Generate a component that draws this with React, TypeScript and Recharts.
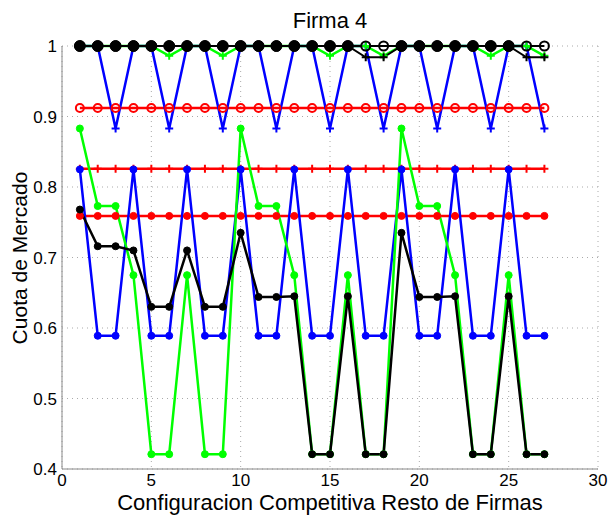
import { LineChart, Line, XAxis, YAxis, CartesianGrid } from "recharts";

// configuraciones competitivas del resto de firmas
const configuraciones = [1, 2, 3, 4, 5, 6, 7, 8, 9, 10, 11, 12, 13, 14, 15, 16, 17, 18, 19, 20, 21, 22, 23, 24, 25, 26, 27];

const rojoCirculos = [0.912, 0.912, 0.912, 0.912, 0.912, 0.912, 0.912, 0.912, 0.912, 0.912, 0.912, 0.912, 0.912, 0.912, 0.912, 0.912, 0.912, 0.912, 0.912, 0.912, 0.912, 0.912, 0.912, 0.912, 0.912, 0.912, 0.912];
const rojoCruces = [0.826, 0.826, 0.826, 0.826, 0.826, 0.826, 0.826, 0.826, 0.826, 0.826, 0.826, 0.826, 0.826, 0.826, 0.826, 0.826, 0.826, 0.826, 0.826, 0.826, 0.826, 0.826, 0.826, 0.826, 0.826, 0.826, 0.826];
const rojoPuntos = [0.759, 0.759, 0.759, 0.759, 0.759, 0.759, 0.759, 0.759, 0.759, 0.759, 0.759, 0.759, 0.759, 0.759, 0.759, 0.759, 0.759, 0.759, 0.759, 0.759, 0.759, 0.759, 0.759, 0.759, 0.759, 0.759, 0.759];

const azulSup = [1, 1, 0.883, 1, 1, 0.883, 1, 1, 0.883, 1, 1, 0.883, 1, 1, 0.883, 1, 1, 0.883, 1, 1, 0.883, 1, 1, 0.883, 1, 1, 0.883];
const azulInf = [0.825, 0.589, 0.589, 0.825, 0.589, 0.589, 0.825, 0.589, 0.589, 0.825, 0.589, 0.589, 0.825, 0.589, 0.589, 0.825, 0.589, 0.589, 0.825, 0.589, 0.589, 0.825, 0.589, 0.589, 0.825, 0.589, 0.589];

const verdeSup = [1, 1, 1, 1, 1, 0.986, 1, 1, 0.986, 1, 1, 1, 1, 1, 0.986, 1, 1, 0.986, 1, 1, 1, 1, 1, 0.986, 1, 1, 0.986];
const verdeInf = [0.883, 0.773, 0.773, 0.675, 0.421, 0.421, 0.675, 0.421, 0.421, 0.883, 0.773, 0.773, 0.675, 0.421, 0.421, 0.675, 0.421, 0.421, 0.883, 0.773, 0.773, 0.675, 0.421, 0.421, 0.675, 0.421, 0.421];

const negroCruces = [1, 1, 1, 1, 1, 1, 1, 1, 1, 1, 1, 1, 1, 1, 1, 1, 0.984, 0.984, 1, 1, 1, 1, 1, 1, 1, 0.984, 0.984];
const negroCirculos = [1, 1, 1, 1, 1, 1, 1, 1, 1, 1, 1, 1, 1, 1, 1, 1, 1, 1, 1, 1, 1, 1, 1, 1, 1, 1, 1];
const negroPuntos = [1, 1, 1, 1, 1, 1, 1, 1, 1, 1, 1, 1, 1, 1, 1, 1, null, null, 1, 1, 1, 1, 1, 1, 1, null, null];
const negroInf = [0.768, 0.716, 0.716, 0.71, 0.63, 0.63, 0.71, 0.63, 0.63, 0.735, 0.644, 0.644, 0.645, 0.421, 0.421, 0.645, 0.421, 0.421, 0.735, 0.644, 0.644, 0.645, 0.421, 0.421, 0.645, 0.421, 0.421];

const xTicks = [0, 5, 10, 15, 20, 25, 30];
const yTicks = [0.4, 0.5, 0.6, 0.7, 0.8, 0.9, 1];

const data = configuraciones.map((x, i) => ({
  x,
  rojoCirculos: rojoCirculos[i],
  rojoCruces: rojoCruces[i],
  rojoPuntos: rojoPuntos[i],
  azulSup: azulSup[i],
  azulInf: azulInf[i],
  verdeSup: verdeSup[i],
  verdeInf: verdeInf[i],
  negroCruces: negroCruces[i],
  negroCirculos: negroCirculos[i],
  negroPuntos: negroPuntos[i],
  negroInf: negroInf[i],
}));

const RED = "#ff0000";
const BLUE = "#0000ff";
const GREEN = "#00ff00";
const BLACK = "#000000";
const FONT = "'Liberation Sans', Arial, sans-serif";

// marcador "+" de matlab
const cruz = (color: string) => (props: any) => {
  const { cx, cy, index } = props;
  if (cx == null || cy == null || props.value == null) return <g key={`c-${index}`} />;
  return (
    <path
      key={`c-${index}`}
      d={`M${cx - 4},${cy}h8M${cx},${cy - 4}v8`}
      stroke={color}
      strokeWidth={2}
      fill="none"
    />
  );
};

export default function App() {
  return (
    <div
      style={{
        position: "absolute",
        left: 0,
        top: 0,
        width: 613,
        height: 515,
        background: "#fff",
        fontFamily: FONT,
      }}
    >
      <div style={{ position: "absolute", left: 0, width: 660, top: 9, lineHeight: "24px", textAlign: "center", fontSize: 22 }}>
        Firma 4
      </div>
      <div
        style={{
          position: "absolute",
          left: 20,
          top: 258,
          transform: "translate(-50%, -50%) rotate(-90deg)",
          whiteSpace: "nowrap",
          lineHeight: "22px",
          fontSize: 21,
        }}
      >
        Cuota de Mercado
      </div>
      <div style={{ position: "absolute", left: 0, width: 660, top: 492, lineHeight: "22px", textAlign: "center", fontSize: 22 }}>
        Configuracion Competitiva Resto de Firmas
      </div>

      <LineChart width={613} height={515} data={data} margin={{ top: 46, right: 15, bottom: 0, left: 0 }}>
        <CartesianGrid stroke="#aaa" strokeDasharray="1 4" />
        <XAxis
          dataKey="x"
          type="number"
          domain={[0, 30]}
          ticks={xTicks}
          height={46}
          tickLine={false}
          tickSize={0}
          tickMargin={5}
          stroke="#888"
          tick={{ fill: "#000", fontSize: 17, fontFamily: FONT }}
        />
        <YAxis
          type="number"
          domain={[0.4, 1]}
          ticks={yTicks}
          width={62}
          tickLine={false}
          tickSize={0}
          tickMargin={5}
          stroke="#888"
          tick={{ fill: "#000", fontSize: 17, fontFamily: FONT }}
        />

        <Line dataKey="rojoCirculos" stroke={RED} strokeWidth={2.5} isAnimationActive={false}
          dot={{ r: 4, fill: "none", stroke: RED, strokeWidth: 2 }} />
        <Line dataKey="rojoCruces" stroke={RED} strokeWidth={2.5} isAnimationActive={false} dot={cruz(RED)} />
        <Line dataKey="rojoPuntos" stroke={RED} strokeWidth={2.5} isAnimationActive={false}
          dot={{ r: 3.5, fill: RED, stroke: RED, strokeWidth: 1 }} />

        <Line dataKey="azulSup" stroke={BLUE} strokeWidth={2.5} isAnimationActive={false} dot={cruz(BLUE)} />
        <Line dataKey="azulInf" stroke={BLUE} strokeWidth={2.5} isAnimationActive={false}
          dot={{ r: 3.5, fill: BLUE, stroke: BLUE, strokeWidth: 1 }} />

        <Line dataKey="verdeSup" stroke={GREEN} strokeWidth={2.5} isAnimationActive={false} dot={cruz(GREEN)} />
        <Line dataKey="verdeInf" stroke={GREEN} strokeWidth={2.5} isAnimationActive={false}
          dot={{ r: 3.5, fill: GREEN, stroke: GREEN, strokeWidth: 1 }} />

        <Line dataKey="negroCruces" stroke={BLACK} strokeWidth={2} isAnimationActive={false} dot={cruz(BLACK)} />
        <Line dataKey="negroCirculos" stroke={BLACK} strokeWidth={2} isAnimationActive={false}
          dot={{ r: 4.5, fill: "none", stroke: BLACK, strokeWidth: 2 }} />
        <Line dataKey="negroPuntos" stroke={BLACK} strokeWidth={2} connectNulls isAnimationActive={false}
          dot={{ r: 5.5, fill: BLACK, stroke: BLACK, strokeWidth: 1 }} />
        <Line dataKey="negroInf" stroke={BLACK} strokeWidth={2.5} isAnimationActive={false}
          dot={{ r: 3.5, fill: BLACK, stroke: BLACK, strokeWidth: 1 }} />
      </LineChart>
    </div>
  );
}
